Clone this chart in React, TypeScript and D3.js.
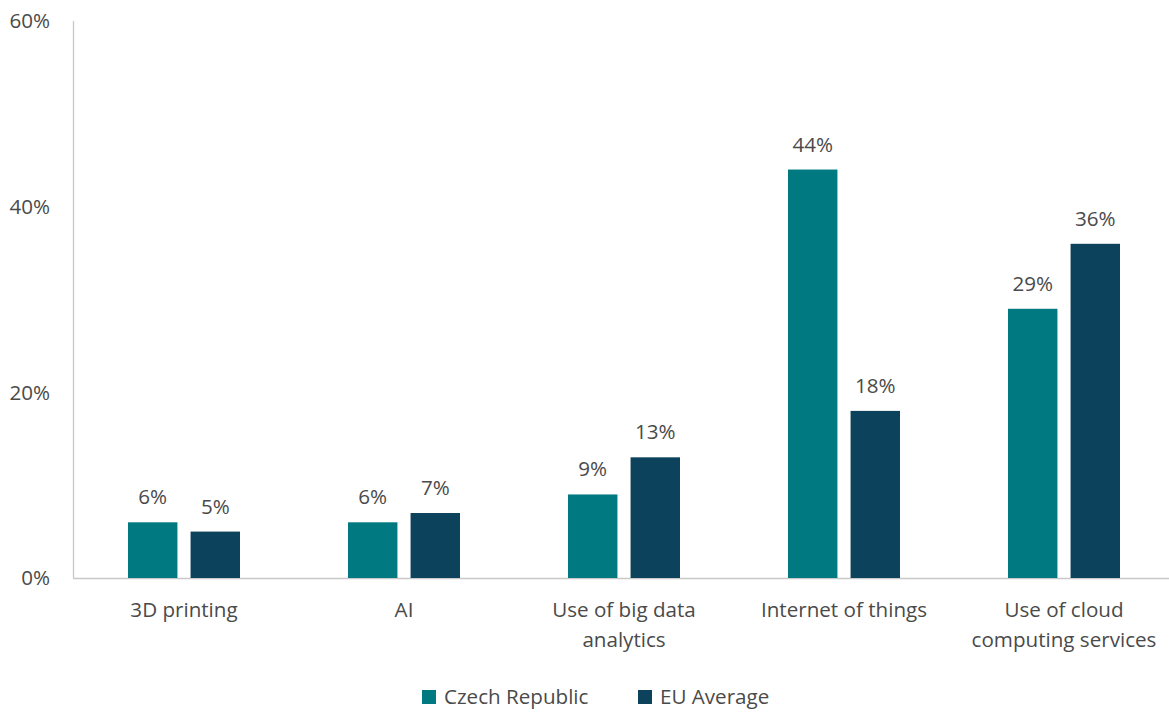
import React from "react";
import * as d3 from "d3";

const categories: string[][] = [
  ["3D printing"],
  ["AI"],
  ["Use of big data", "analytics"],
  ["Internet of things"],
  ["Use of cloud", "computing services"],
];
const seriesNames = ["Czech Republic", "EU Average"];
const czech = [6, 6, 9, 44, 29];
const euAvg = [5, 7, 13, 18, 36];
const yTicks = [0, 20, 40, 60];
const colors = ["#007A80", "#0C425C"];

const W = 1169;
const H = 713;
const FONT = "'Open Sans', sans-serif";
const TEXT = "#4a4a4a";
const FS = 20.6;

export default function App() {
  const x0 = d3.scaleBand<number>().domain(d3.range(categories.length)).range([74, 1174]).padding(0);
  const y = d3.scaleLinear().domain([0, 60]).range([578, 21]);
  const groupW = 112;
  const x1 = d3.scaleBand<number>().domain([0, 1]).range([0, groupW]).paddingInner(0.21).paddingOuter(0);
  const series = [czech, euAvg];

  return (
    <svg width={W} height={H} style={{ position: "absolute", left: 0, top: 0, background: "#fff" }} fontFamily={FONT}>
      <line x1={73.5} x2={73.5} y1={21} y2={578} stroke="#c8c8c8" strokeWidth={1.3} />
      <line x1={73} x2={1169} y1={578.5} y2={578.5} stroke="#c8c8c8" strokeWidth={1.3} />
      {yTicks.map((t) => (
        <text key={t} x={50} y={y(t)} dy="0.35em" textAnchor="end" fontSize={FS} fill={TEXT}>
          {t}%
        </text>
      ))}
      {categories.map((lines, i) => {
        const cx = (x0(i) as number) + x0.bandwidth() / 2;
        const g0 = cx - groupW / 2;
        return (
          <g key={i}>
            {series.map((s, j) => {
              const bx = g0 + (x1(j) as number);
              const v = s[i];
              return (
                <g key={j}>
                  <rect x={bx} y={y(v)} width={x1.bandwidth()} height={y(0) - y(v)} fill={colors[j]} />
                  <text x={bx + x1.bandwidth() / 2} y={y(v) - 18} textAnchor="middle" fontSize={FS} fill={TEXT}>
                    {v}%
                  </text>
                </g>
              );
            })}
            {lines.map((ln, k) => (
              <text key={k} x={cx} y={617 + k * 30} textAnchor="middle" fontSize={FS} fill={TEXT}>
                {ln}
              </text>
            ))}
          </g>
        );
      })}
      {seriesNames.map((n, j) => {
        const lx = j === 0 ? 422 : 638;
        return (
          <g key={n}>
            <rect x={lx} y={690} width={14} height={14} fill={colors[j]} />
            <text x={lx + 22} y={697} dy="0.35em" fontSize={FS} fill={TEXT}>
              {n}
            </text>
          </g>
        );
      })}
    </svg>
  );
}
